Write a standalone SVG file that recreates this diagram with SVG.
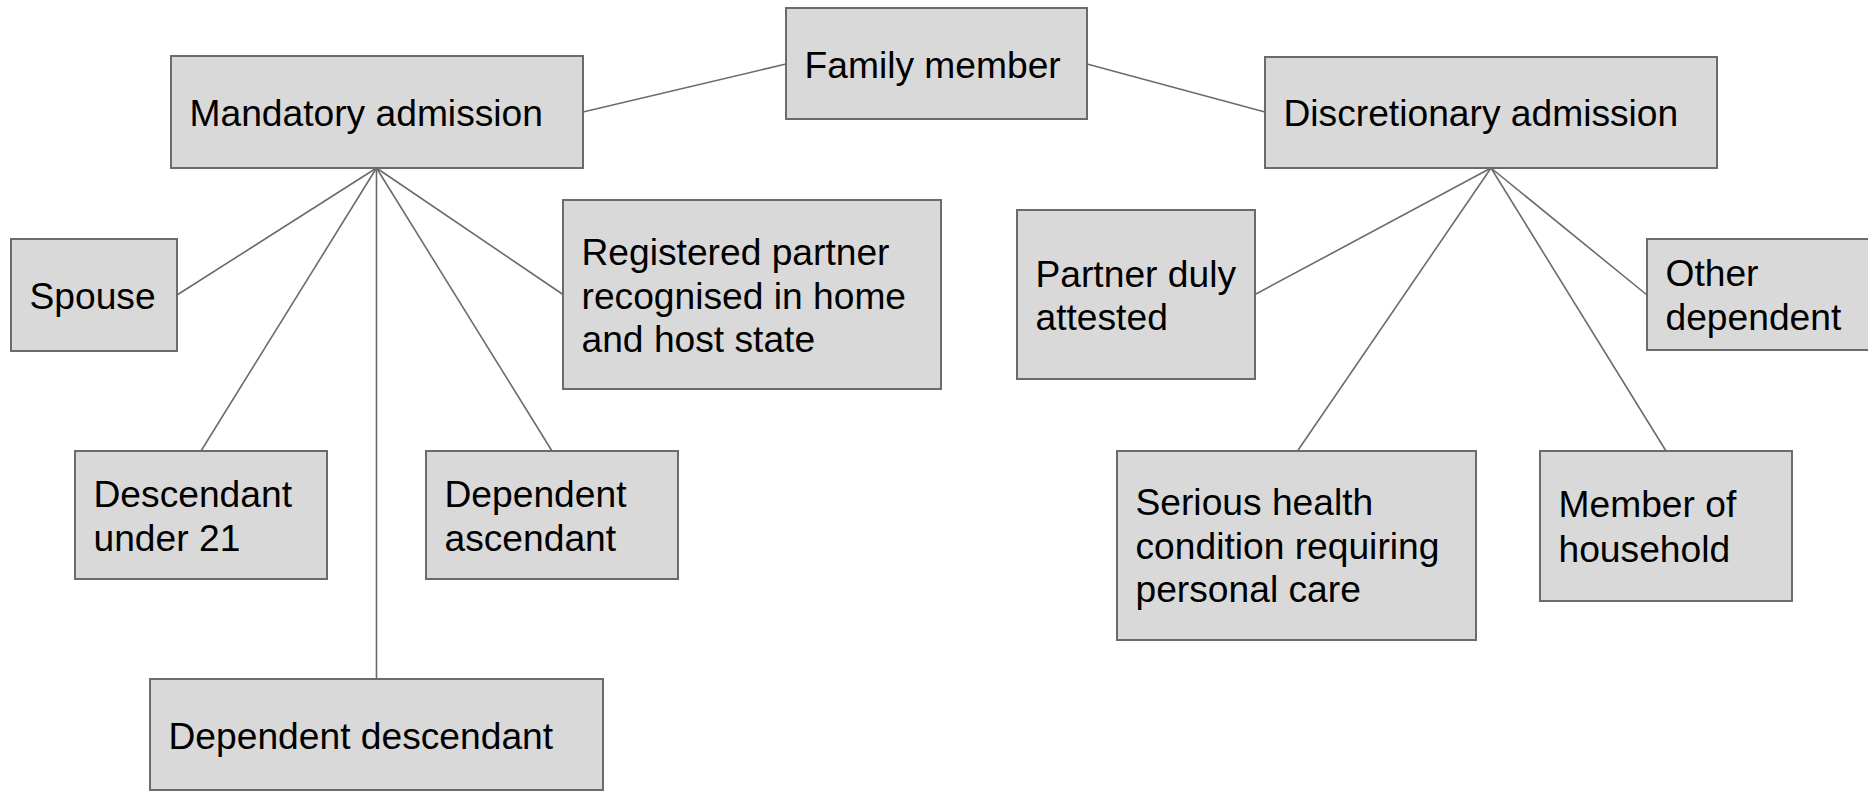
<svg xmlns="http://www.w3.org/2000/svg" width="1868" height="791" viewBox="0 0 1868 791">
<style>
.box{fill:#d9d9d9;stroke:#6b6b6b;stroke-width:2}
.lbl{font-family:"Liberation Sans",Arial,sans-serif;font-size:37.2px;fill:#000}
.conn line{stroke:#6b6b6b;stroke-width:1.6}
</style>
<rect width="1868" height="791" fill="#fff"/>
<g id="connectors" class="conn">
<line x1="786" y1="64" x2="583" y2="112"/>
<line x1="1087" y1="64" x2="1265" y2="112"/>
<line x1="376.5" y1="168" x2="177" y2="295"/>
<line x1="376.5" y1="168" x2="201" y2="451"/>
<line x1="376.5" y1="168" x2="376.5" y2="679"/>
<line x1="376.5" y1="168" x2="552" y2="451"/>
<line x1="376.5" y1="168" x2="563" y2="294.5"/>
<line x1="1491" y1="168" x2="1255" y2="294.5"/>
<line x1="1491" y1="168" x2="1297.5" y2="451"/>
<line x1="1491" y1="168" x2="1666" y2="451"/>
<line x1="1491" y1="168" x2="1647" y2="295"/>
</g>
<g id="family-member"><rect class="box" x="786" y="8" width="301" height="111"/><text class="lbl" x="804.5" y="77.5">Family member</text></g>
<g id="mandatory-admission"><rect class="box" x="171" y="56" width="412" height="112"/><text class="lbl" x="189.5" y="126">Mandatory admission</text></g>
<g id="discretionary-admission"><rect class="box" x="1265" y="57" width="452" height="111"/><text class="lbl" x="1283.5" y="126">Discretionary admission</text></g>
<g id="spouse"><rect class="box" x="11" y="239" width="166" height="112"/><text class="lbl" x="29.5" y="309">Spouse</text></g>
<g id="registered-partner"><rect class="box" x="563" y="200" width="378" height="189"/><text class="lbl"><tspan x="581.5" y="265">Registered partner</tspan><tspan x="581.5" y="308.5">recognised in home</tspan><tspan x="581.5" y="352">and host state</tspan></text></g>
<g id="descendant-under-21"><rect class="box" x="75" y="451" width="252" height="128"/><text class="lbl"><tspan x="93.5" y="507">Descendant</tspan><tspan x="93.5" y="551">under 21</tspan></text></g>
<g id="dependent-ascendant"><rect class="box" x="426" y="451" width="252" height="128"/><text class="lbl"><tspan x="444.5" y="507">Dependent</tspan><tspan x="444.5" y="551">ascendant</tspan></text></g>
<g id="dependent-descendant"><rect class="box" x="150" y="679" width="453" height="111"/><text class="lbl" x="168.5" y="749">Dependent descendant</text></g>
<g id="partner-duly-attested"><rect class="box" x="1017" y="210" width="238" height="169"/><text class="lbl"><tspan x="1035.5" y="286.5">Partner duly</tspan><tspan x="1035.5" y="330">attested</tspan></text></g>
<g id="other-dependent"><rect class="box" x="1647" y="239" width="250" height="111"/><text class="lbl"><tspan x="1665.5" y="286">Other</tspan><tspan x="1665.5" y="330">dependent</tspan></text></g>
<g id="serious-health"><rect class="box" x="1117" y="451" width="359" height="189"/><text class="lbl"><tspan x="1135.5" y="515">Serious health</tspan><tspan x="1135.5" y="558.5">condition requiring</tspan><tspan x="1135.5" y="602">personal care</tspan></text></g>
<g id="member-of-household"><rect class="box" x="1540" y="451" width="252" height="150"/><text class="lbl"><tspan x="1558.5" y="517">Member of</tspan><tspan x="1558.5" y="561.5">household</tspan></text></g>
</svg>
